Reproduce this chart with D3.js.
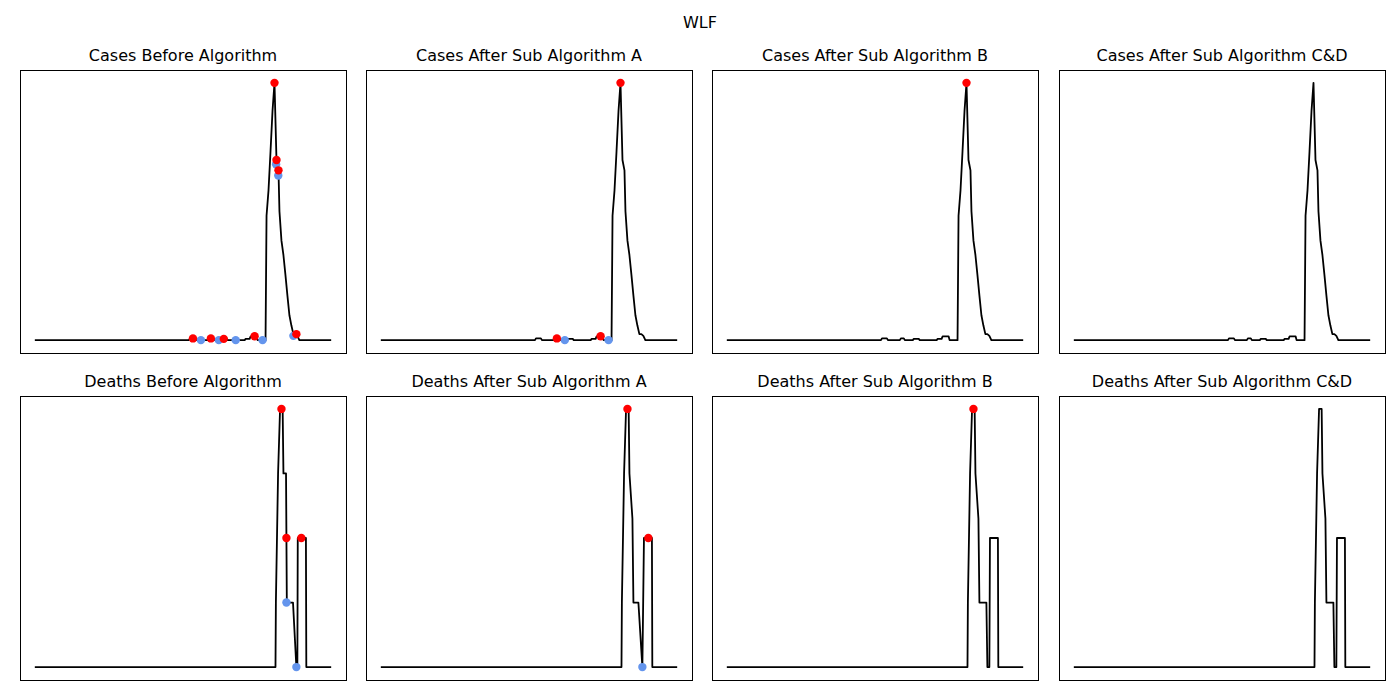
<!DOCTYPE html>
<html><head><meta charset="utf-8">
<script src="https://cdn.jsdelivr.net/npm/d3@7"></script>
<style>body{margin:0;background:#fff}</style>
</head><body>
<svg id="c" width="1400" height="700"></svg>
<script>
const suptitle = "WLF";
const caseTitles = ["Cases Before Algorithm","Cases After Sub Algorithm A","Cases After Sub Algorithm B","Cases After Sub Algorithm C&D"];
const deathTitles = ["Deaths Before Algorithm","Deaths After Sub Algorithm A","Deaths After Sub Algorithm B","Deaths After Sub Algorithm C&D"];
const dayRange = [0, 149];
// [day, value] breakpoints
const cases = [[0,0],[77.5,0],[78,2],[80.5,2],[81,0],[87,0],[87.5,2],[89,2],[89.5,0],[93.5,0],[94,1.5],[96.5,1.5],[97,0],[105.5,0],[106,1.5],[108,1.5],[108.5,4.5],[111.5,4.5],[112,0],[116,0],[116.5,145],[117.5,175],[118.5,220],[119.5,267],[120.5,300],[121.5,210],[122.5,198],[123,150],[124,116],[125,99],[126,76],[127,52],[128,29],[129,17],[130,7],[131,7],[132,5],[133,0],[149,0]];
const casesRed = [
  [[79.5,2],[88.5,2],[95,1.5],[110.5,4.5],[120.5,300],[121.5,210],[122.5,198],[131.5,7]],
  [[88.5,2],[110.5,4.5],[120.5,300]],
  [[120.5,300]],
  []];
const casesBlue = [
  [[83.5,0],[92.5,0],[101,0],[114.5,0],[121.3,205],[122.4,192],[130,5]],
  [[92.5,0],[114.5,0]],
  [],
  []];
const deathsBefore = [[0,0],[121,0],[121.2,1],[122.3,3],[123.3,4],[124.6,4],[125,3],[126.3,3],[126.5,2],[126.7,1],[129.8,1],[131.5,0],[132,0],[132.2,2],[136.3,2],[136.5,0],[149,0]];
const deathsA = [[0,0],[121,0],[121.2,1],[122.3,3],[123.3,4],[124.6,4],[125,3],[126.5,2.3],[127,1],[129.5,1],[131.5,0],[132.3,2],[136.3,2],[136.5,0],[149,0]];
const deathsB = [[0,0],[121,0],[121.2,1],[122.3,3],[123.3,4],[124.6,4],[125,3],[126.5,2.3],[127,1],[130.5,1],[131,0],[132,0],[132.3,2],[136.3,2],[136.5,0],[149,0]];
const deathsCD = [[0,0],[121,0],[121.2,1],[122.3,3],[123.3,4],[124.6,4],[125,3],[126.5,2.3],[127,1],[130.5,1],[131,0],[132,0],[132.3,2],[136.3,2],[136.5,0],[149,0]];
const deathsRed = [[[124,4],[126.5,2],[134,2]],[[124,4],[134.5,2]],[[124,4]],[]];
const deathsBlue = [[[126.5,1],[131.5,0]],[[131.5,0]],[],[]];

const svg = d3.select("#c");
svg.append("text").attr("x",700).attr("y",28).attr("text-anchor","middle")
  .attr("font-family","DejaVu Sans").attr("font-size",16).text(suptitle);
const lefts=[20,366,712,1059], W=326;
const rows=[{top:70,h:283},{top:396,h:284}];
function panel(x0,row,title,series,red,blue,ymax){
  const pad=(dayRange[1]-dayRange[0])*0.05;
  const x=d3.scaleLinear().domain([dayRange[0]-pad,dayRange[1]+pad]).range([x0,x0+W]);
  const yp=ymax*0.05;
  const y=d3.scaleLinear().domain([-yp,ymax+yp]).range([row.top+row.h,row.top]);
  svg.append("text").attr("x",x0+W/2).attr("y",row.top-9).attr("text-anchor","middle")
    .attr("font-family","DejaVu Sans").attr("font-size",16).text(title);
  svg.append("path").datum(series).attr("fill","none").attr("stroke","#000").attr("stroke-width",1.8)
    .attr("stroke-linejoin","round").attr("d",d3.line().x(d=>x(d[0])).y(d=>y(d[1])));
  svg.selectAll(null).data(blue).enter().append("circle").attr("cx",d=>x(d[0])).attr("cy",d=>y(d[1])).attr("r",4.2).attr("fill","#6495ED");
  svg.selectAll(null).data(red).enter().append("circle").attr("cx",d=>x(d[0])).attr("cy",d=>y(d[1])).attr("r",4.2).attr("fill","#ff0000");
  svg.append("rect").attr("x",x0+0.5).attr("y",row.top+0.5).attr("width",W).attr("height",row.h).attr("fill","none").attr("stroke","#000").attr("stroke-width",1);
}
const dSeries=[deathsBefore,deathsA,deathsB,deathsCD];
for(let i=0;i<4;i++){
  panel(lefts[i],rows[0],caseTitles[i],cases,casesRed[i],casesBlue[i],300);
  panel(lefts[i],rows[1],deathTitles[i],dSeries[i],deathsRed[i],deathsBlue[i],4);
}
</script>
</body></html>
